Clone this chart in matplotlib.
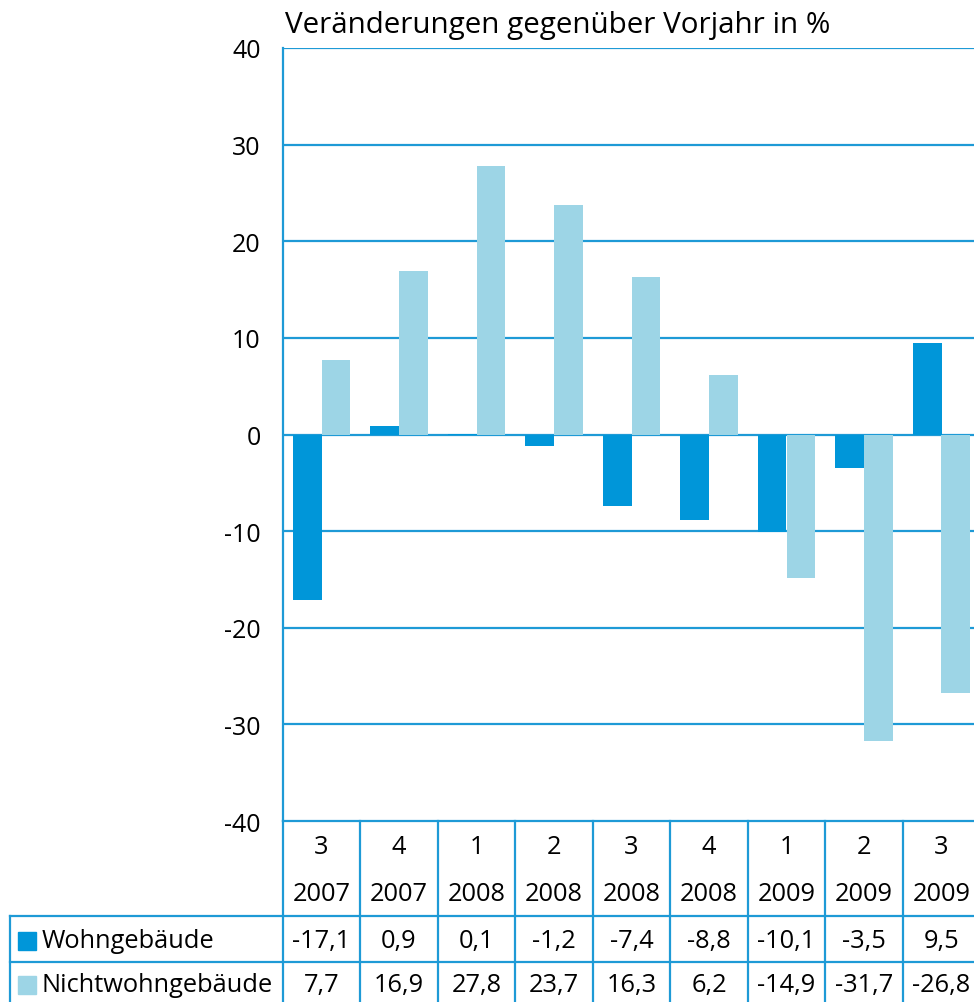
import numpy as np
import matplotlib.pyplot as plt

plt.rcParams['font.family'] = ['Open Sans', 'DejaVu Sans']

quarters = ['3', '4', '1', '2', '3', '4', '1', '2', '3']
years = ['2007', '2007', '2008', '2008', '2008', '2008', '2009', '2009', '2009']
wohn = [-17.1, 0.9, 0.1, -1.2, -7.4, -8.8, -10.1, -3.5, 9.5]
nicht = [7.7, 16.9, 27.8, 23.7, 16.3, 6.2, -14.9, -31.7, -26.8]
series_names = ['Wohngebäude', 'Nichtwohngebäude']
title = 'Veränderungen gegenüber Vorjahr in %'

dark = '#0096d9'
light = '#9dd5e6'
line = '#1e9ad6'

W, H = 974, 1003
fig = plt.figure(figsize=(W / 100, H / 100), dpi=100)

# main chart area (right edge runs past the figure, like the original crop)
left = 282.75 / W
width = 697.5 / W
bot = (H - 822) / H
top = (H - 49) / H
ax = fig.add_axes([left, bot, width, top - bot])

x = np.arange(len(quarters))
bw = 0.374
ax.bar(x - bw / 2, wohn, bw, color=dark, zorder=3)
ax.bar(x + bw / 2, nicht, bw, color=light, zorder=3)

ax.set_xlim(-0.5, 8.5)
ax.set_ylim(-40, 40)
ax.set_yticks(np.arange(-40, 41, 10))
ax.set_yticklabels([str(v) for v in range(-40, 41, 10)], fontsize=18)
ax.tick_params(axis='y', length=0, pad=16)
ax.set_xticks([])
for v in range(-30, 41, 10):
    ax.axhline(v, color=line, lw=1.6, zorder=1)
for s in ['top', 'right', 'bottom']:
    ax.spines[s].set_visible(False)
ax.spines['left'].set_color(line)
ax.spines['left'].set_linewidth(1.6)

fig.text(285 / W, (H - 25) / H, title, fontsize=21.3, va='center', ha='left')

# table below the chart, y in pixels from figure bottom
tab = fig.add_axes([left, 0, width, bot])
tab.set_xlim(-0.5, 8.5)
tab.set_ylim(0, H - 822)
tab.axis('off')

def py(p):
    return H - p

x_left = -0.5 + (10 - 282.75) / 77.5
kw = dict(color=line, lw=1.6, clip_on=False)
tab.plot([-0.5, 8.6], [py(822), py(822)], **kw)
tab.plot([x_left, 8.6], [py(917), py(917)], **kw)
tab.plot([x_left, 8.6], [py(963), py(963)], **kw)
tab.plot([x_left, x_left], [py(917), py(1010)], **kw)
for b in np.arange(-0.5, 9.0, 1.0):
    tab.plot([b, b], [py(822), py(1010)], **kw)

fs = 18.3
for i in range(len(quarters)):
    tab.text(i, py(848), quarters[i], ha='center', va='center', fontsize=fs)
    tab.text(i, py(895), years[i], ha='center', va='center', fontsize=fs)
    tab.text(i, py(942), f'{wohn[i]:.1f}'.replace('.', ','), ha='center', va='center', fontsize=fs)
    tab.text(i, py(986), f'{nicht[i]:.1f}'.replace('.', ','), ha='center', va='center', fontsize=fs)

sq = 18 / 77.5
for yy, name, col in [(942, series_names[0], dark), (986, series_names[1], light)]:
    x0 = -0.5 + (18 - 282.75) / 77.5
    tab.add_patch(plt.Rectangle((x0, py(yy) - 9), sq, 18, color=col, clip_on=False))
    tab.text(-0.5 + (42 - 282.75) / 77.5, py(yy), name, ha='left', va='center', fontsize=fs)

fig.savefig('out.png', dpi=100)
